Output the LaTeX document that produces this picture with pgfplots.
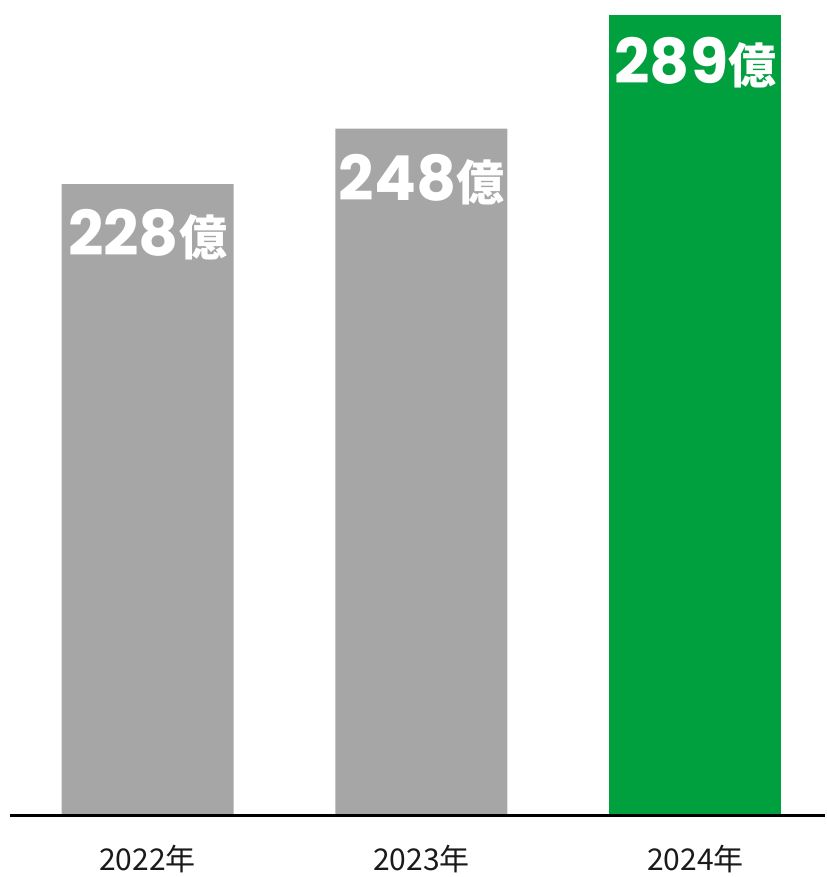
\documentclass[border=0pt]{standalone}
\usepackage{fontspec}
\setmainfont{Noto Sans CJK JP}
\newfontfamily\cjk{Noto Sans CJK JP}
\newfontfamily\pop{Poppins}
\usepackage{pgfplots}
\pgfplotsset{compat=1.18}
\definecolor{bargray}{HTML}{A6A6A6}
\definecolor{bargreen}{HTML}{00A03E}
\definecolor{labeltxt}{HTML}{1A1A1A}
\begin{document}
\begin{tikzpicture}[x=1bp,y=1bp]
\begin{axis}[
  at={(0,0)}, anchor=south west,
  scale only axis,
  width=815bp, height=815bp,
  xmin=-0.502, xmax=2.473,
  ymin=0, ymax=294.5,
  axis x line=bottom, axis y line=none,
  axis line style={-, line width=3bp, black},
  xtick={0,1,2},
  xticklabels={2022年,2023年,2024年},
  major tick length=0pt,
  xticklabel style={font=\fontsize{30bp}{34bp}\selectfont, text=labeltxt, yshift=-27bp},
  ybar, bar width=172bp, bar shift=0pt,
  clip=false,
  axis on top,
]
\addplot[fill=bargray, draw=none] coordinates {(0,228) (1,248)};
\addplot[fill=bargreen, draw=none] coordinates {(2,289)};
\node[anchor=north, text=white, yshift=-25bp, inner sep=0pt] at (axis cs:0,228)
  {\pop\bfseries\fontsize{62bp}{66bp}\selectfont 228\cjk\bfseries\fontsize{48bp}{52bp}\selectfont 億};
\node[anchor=north, text=white, yshift=-25bp, inner sep=0pt] at (axis cs:1,248)
  {\pop\bfseries\fontsize{62bp}{66bp}\selectfont 248\cjk\bfseries\fontsize{48bp}{52bp}\selectfont 億};
\node[anchor=north, text=white, yshift=-22bp, inner sep=0pt] at (axis cs:2,289)
  {\pop\bfseries\fontsize{62bp}{66bp}\selectfont 289\cjk\bfseries\fontsize{48bp}{52bp}\selectfont 億};
\end{axis}
\useasboundingbox (-10bp,-62bp) rectangle (815bp,815bp);
\end{tikzpicture}
\end{document}
